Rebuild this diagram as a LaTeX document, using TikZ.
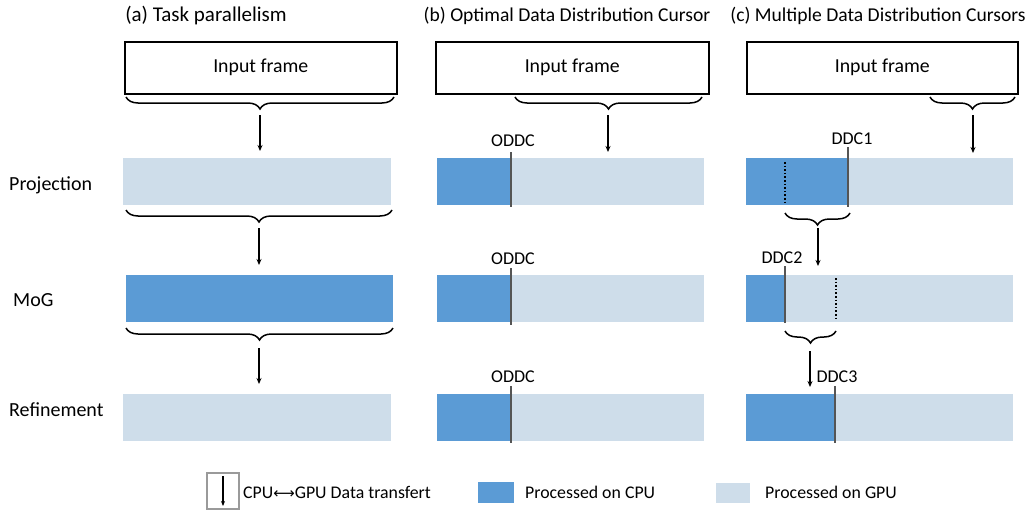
\documentclass[tikz,border=0pt]{standalone}
\usepackage{fontspec}
\setmainfont{Carlito}
\newfontfamily\dvs{DejaVu Sans}
\usetikzlibrary{arrows.meta,decorations.pathreplacing}
\definecolor{cpu}{HTML}{5B9BD5}
\definecolor{gpu}{HTML}{CEDDEA}
\definecolor{cur}{HTML}{555555}
\definecolor{lgbox}{HTML}{9A9A9A}
\begin{document}
\begin{tikzpicture}[x=1pt,y=-1pt,
  txt/.style={font=\fontsize{19}{22}\selectfont, inner sep=0pt},
  ttl/.style={font=\fontsize{19.6}{23}\selectfont, inner sep=0pt},
  rowlab/.style={font=\fontsize{20}{23}\selectfont, inner sep=0pt, anchor=west},
  curlab/.style={font=\fontsize{18}{21}\selectfont, inner sep=0pt},
  lgtxt/.style={font=\fontsize{17.8}{20}\selectfont, inner sep=0pt, anchor=west},
  bar/.style={anchor=north west, inner sep=0pt, outer sep=0pt, minimum height=47pt},
  gpubar/.style={bar, fill=gpu},
  cpubar/.style={bar, fill=cpu},
  framebox/.style={draw, line width=1.5pt, minimum height=52pt, anchor=north west, inner sep=0pt, font=\fontsize{19.8}{23}\selectfont},
  brc/.style={decorate, decoration={brace, mirror, amplitude=12pt}, line width=1.5pt},
  arr/.style={-{Stealth[length=6pt,width=5pt]}, line width=1.3pt},
  cursor/.style={draw=cur, line width=1.3pt},
  dots/.style={dotted, line width=1.6pt}
]
\useasboundingbox (0,0) rectangle (1030,514);

% titles
\node[ttl, font=\fontsize{21}{24}\selectfont] (ta) at (206,16) {(a) Task parallelism};
\node[ttl] (tb) at (567,16) {(b) Optimal Data Distribution Cursor};
\node[ttl] (tc) at (878,16) {(c) Multiple Data Distribution Cursors};

% row labels
\node[rowlab] (lp) at (9,185) {Projection};
\node[rowlab] (lm) at (13,300) {MoG};
\node[rowlab] (lr) at (9,410) {Refinement};

% input frames
\node[framebox, minimum width=272pt] (fa) at (124,41) {Input frame};
\node[framebox, minimum width=273pt] (fb) at (435,41) {Input frame};
\node[framebox, minimum width=271pt] (fc) at (746,41) {Input frame};

% (a) bars
\node[gpubar, minimum width=268pt] (a1) at (123,158) {};
\node[cpubar, minimum width=267pt] (a2) at (126,275) {};
\node[gpubar, minimum width=268pt] (a3) at (123,394) {};

% (b) bars
\node[cpubar, minimum width=74pt] (b1c) at (437,158) {};
\node[gpubar, minimum width=193pt] (b1g) at (511,158) {};
\node[cpubar, minimum width=74pt] (b2c) at (437,275) {};
\node[gpubar, minimum width=193pt] (b2g) at (511,275) {};
\node[cpubar, minimum width=74pt] (b3c) at (437,394) {};
\node[gpubar, minimum width=193pt] (b3g) at (511,394) {};

% (c) bars
\node[cpubar, minimum width=102pt] (c1c) at (746,158) {};
\node[gpubar, minimum width=165pt] (c1g) at (848,158) {};
\node[cpubar, minimum width=39pt] (c2c) at (746,275) {};
\node[gpubar, minimum width=228pt] (c2g) at (785,275) {};
\node[cpubar, minimum width=89pt] (c3c) at (746,394) {};
\node[gpubar, minimum width=178pt] (c3g) at (835,394) {};

% braces (a)
\draw[brc] (126,97) -- (394,97);
\draw[brc] (126,210) -- (392,210);
\draw[brc] (126,328) -- (393,328);
% braces (b), (c)
\draw[brc] (515,97) -- (702,97);
\draw[brc] (930,97) -- (1015,97);
\draw[brc] (785,213) -- (850,213);
\draw[brc] (785,331) -- (836,331);

% arrow end coordinates
\coordinate (sa1) at (260,115); \coordinate (ea1) at (260,151);
\coordinate (sa2) at (259,228); \coordinate (ea2) at (259,265);
\coordinate (sa3) at (259,348); \coordinate (ea3) at (259,384);
\coordinate (sb1) at (608,115); \coordinate (eb1) at (608,152);
\coordinate (sc1) at (973,115); \coordinate (ec1) at (973,153);
\coordinate (sc2) at (818,228); \coordinate (ec2) at (818,266);
\coordinate (sc3) at (810,351); \coordinate (ec3) at (810,387);

\draw[arr] (sa1) -- (ea1);
\draw[arr] (sa2) -- (ea2);
\draw[arr] (sa3) -- (ea3);
\draw[arr] (sb1) -- (eb1);
\draw[arr] (sc1) -- (ec1);
\draw[arr] (sc2) -- (ec2);
\draw[arr] (sc3) -- (ec3);

% cursors (b)
\node[curlab] (o1) at (513,141) {ODDC};
\node[curlab] (o2) at (513,259) {ODDC};
\node[curlab] (o3) at (513,377) {ODDC};
\draw[cursor] (511,152) -- (511,207);
\draw[cursor] (511,268) -- (511,325);
\draw[cursor] (511,386) -- (511,443);

% cursors (c)
\node[curlab] (d1) at (852,139) {DDC1};
\node[curlab] (d2) at (782,258) {DDC2};
\node[curlab] (d3) at (837,377) {DDC3};
\draw[cursor] (848,147) -- (848,207);
\draw[cursor] (785,266) -- (785,323);
\draw[cursor] (835,386) -- (835,443);
\draw[dots] (785,162) -- (785,203);
\draw[dots] (836,278) -- (836,320);

% legend
\node[draw=lgbox, line width=2.5pt, minimum width=32pt, minimum height=36pt, inner sep=0pt] (lg) at (223,491) {};
\coordinate (lgs) at (223,476); \coordinate (lge) at (223,506);
\draw[-{Stealth[length=5pt,width=4pt]}, line width=1.2pt] (lgs) -- (lge);
\node[lgtxt] (lgt) at (243,492) {CPU{\dvs\fontsize{15}{18}\selectfont ⟷}GPU Data transfert};
\node[fill=cpu, minimum width=36pt, minimum height=21pt, inner sep=0pt] (lc) at (496,492.5) {};
\node[lgtxt] (lct) at (525,492) {Processed on CPU};
\node[fill=gpu, minimum width=34pt, minimum height=20pt, inner sep=0pt] (lgg) at (733,493) {};
\node[lgtxt] (lgt2) at (765,492) {Processed on GPU};
\end{tikzpicture}
\end{document}
